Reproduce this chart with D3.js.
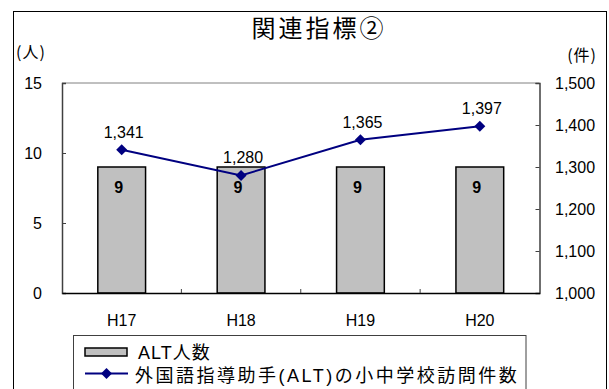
<!DOCTYPE html>
<html>
<head>
<meta charset="utf-8">
<script src="https://cdn.jsdelivr.net/npm/d3@7"></script>
<style>
  html, body { margin: 0; padding: 0; background: #fff; }
  svg { display: block; font-family: "Liberation Sans", "Noto Sans CJK JP", sans-serif; }
</style>
</head>
<body>
<svg id="chart" width="609" height="389"></svg>
<script>
// Chart data
const categories = ["H17", "H18", "H19", "H20"];
const altCount = [9, 9, 9, 9];                  // ALT人数 (bars, left axis)
const visits = [1341, 1280, 1365, 1397];        // 訪問件数 (line, right axis)
const leftTicks = [0, 5, 10, 15];
const rightTicks = [1000, 1100, 1200, 1300, 1400, 1500];
const titleText = "関連指標②";
const leftUnit = "(人)";
const rightUnit = "(件)";
const legendBar = "ALT人数";
const legendLine = "外国語指導助手(ALT)の小中学校訪問件数";

const svg = d3.select("#chart");
const plot = { left: 62, right: 539.5, top: 83, bottom: 293 };
const fmt = d3.format(",");

// outer frame
svg.append("rect")
  .attr("x", 13.5).attr("y", 11.5).attr("width", 593).attr("height", 400)
  .attr("fill", "#fff").attr("stroke", "#000").attr("stroke-width", 1);

// title
svg.append("text")
  .attr("x", 319).attr("y", 37)
  .attr("text-anchor", "middle")
  .attr("font-family", "'Noto Sans CJK JP', sans-serif")
  .attr("font-size", 24).attr("letter-spacing", 3)
  .text(titleText);

// scales
const xCat = d3.scaleBand().domain(categories).range([plot.left, plot.right]).padding(0);
const xBar = d3.scaleBand().domain(categories).range([plot.left, plot.right])
  .paddingInner(0.6).paddingOuter(0.3);
const yLeft = d3.scaleLinear().domain([0, 15]).range([plot.bottom, plot.top]);
const yRight = d3.scaleLinear().domain([1000, 1500]).range([plot.bottom, plot.top]);

// plot area top border
svg.append("line")
  .attr("x1", plot.left).attr("x2", plot.right)
  .attr("y1", plot.top).attr("y2", plot.top)
  .attr("stroke", "#808080").attr("stroke-width", 1);

// bars
svg.append("g").selectAll("rect")
  .data(categories.map((c, i) => ({ c, v: altCount[i] })))
  .join("rect")
  .attr("x", d => xBar(d.c))
  .attr("y", d => yLeft(d.v))
  .attr("width", xBar.bandwidth())
  .attr("height", d => yLeft(0) - yLeft(d.v))
  .attr("fill", "#c0c0c0")
  .attr("stroke", "#000").attr("stroke-width", 1.5);

// bar value labels
svg.append("g").selectAll("text")
  .data(categories.map((c, i) => ({ c, v: altCount[i] })))
  .join("text")
  .attr("x", d => xBar(d.c) + xBar.bandwidth() / 2 - 3)
  .attr("y", 193)
  .attr("text-anchor", "middle")
  .attr("font-size", 16).attr("font-weight", "bold")
  .text(d => d.v);

// left axis
const gLeft = svg.append("g")
  .attr("transform", `translate(${plot.left},0)`)
  .call(d3.axisLeft(yLeft).tickValues(leftTicks).tickSize(-4).tickPadding(20));
gLeft.select(".domain").attr("stroke", "#404040").attr("stroke-width", 1.5);
gLeft.selectAll(".tick line").attr("stroke", "#404040");
gLeft.selectAll(".tick text").attr("font-size", 16).attr("fill", "#000")
  .attr("font-family", "'Liberation Sans', sans-serif");

// right axis
const gRight = svg.append("g")
  .attr("transform", `translate(${plot.right},0)`)
  .call(d3.axisRight(yRight).tickValues(rightTicks).tickSize(-4).tickPadding(15.5).tickFormat(fmt));
gRight.select(".domain").attr("stroke", "#404040").attr("stroke-width", 1.5);
gRight.selectAll(".tick line").attr("stroke", "#404040");
gRight.selectAll(".tick text").attr("font-size", 16).attr("fill", "#000")
  .attr("font-family", "'Liberation Sans', sans-serif");

// bottom axis with category labels
const gBottom = svg.append("g")
  .attr("transform", `translate(0,${plot.bottom})`)
  .call(d3.axisBottom(xCat).tickSize(0).tickPadding(22));
gBottom.select(".domain").attr("stroke", "#000").attr("stroke-width", 1.5);
gBottom.selectAll(".tick text").attr("font-size", 16).attr("fill", "#000")
  .attr("font-family", "'Liberation Sans', sans-serif");

// category separator ticks (pointing up into the plot)
svg.append("g").selectAll("line")
  .data(categories.slice(1))
  .join("line")
  .attr("x1", d => xCat(d)).attr("x2", d => xCat(d))
  .attr("y1", plot.bottom).attr("y2", plot.bottom - 4)
  .attr("stroke", "#404040").attr("stroke-width", 1);

// unit labels
svg.append("text").attr("x", 16).attr("y", 58)
  .attr("font-size", 16).attr("letter-spacing", 1)
  .attr("font-family", "'Noto Sans CJK JP', sans-serif")
  .text(leftUnit);
svg.append("text").attr("x", 597).attr("y", 61)
  .attr("text-anchor", "end").attr("letter-spacing", 1)
  .attr("font-size", 16).attr("font-family", "'Noto Sans CJK JP', sans-serif")
  .text(rightUnit);

// line series
const pts = categories.map((c, i) => ({ c, v: visits[i] }));
const cx = d => xCat(d.c) + xCat.bandwidth() / 2;
svg.append("path")
  .datum(pts)
  .attr("fill", "none")
  .attr("stroke", "#000080").attr("stroke-width", 2)
  .attr("d", d3.line().x(cx).y(d => yRight(d.v)));

const diamond = d3.symbol().type(d3.symbolSquare).size(60);
svg.append("g").selectAll("path")
  .data(pts)
  .join("path")
  .attr("transform", d => `translate(${cx(d)},${yRight(d.v)}) rotate(45)`)
  .attr("d", diamond)
  .attr("fill", "#000080");

// line value labels
svg.append("g").selectAll("text")
  .data(pts)
  .join("text")
  .attr("x", d => cx(d) + 2)
  .attr("y", d => yRight(d.v) - 12)
  .attr("text-anchor", "middle")
  .attr("font-size", 16)
  .text(d => fmt(d.v));

// legend
const lg = svg.append("g");
lg.append("rect")
  .attr("x", 73.5).attr("y", 335.5).attr("width", 452.5).attr("height", 70)
  .attr("fill", "#fff").attr("stroke", "#404040").attr("stroke-width", 1);
lg.append("rect")
  .attr("x", 85).attr("y", 348).attr("width", 42).attr("height", 8)
  .attr("fill", "#c0c0c0").attr("stroke", "#000").attr("stroke-width", 1.5);
lg.append("text").attr("x", 138).attr("y", 358.5)
  .attr("font-size", 18).attr("letter-spacing", 1)
  .text(legendBar);
lg.append("line")
  .attr("x1", 85).attr("x2", 128).attr("y1", 373.5).attr("y2", 373.5)
  .attr("stroke", "#000080").attr("stroke-width", 2);
lg.append("path")
  .attr("transform", "translate(106.5,373.5) rotate(45)")
  .attr("d", diamond)
  .attr("fill", "#000080");
lg.append("text").attr("x", 135).attr("y", 382)
  .attr("font-size", 18).attr("letter-spacing", 2.5)
  .text(legendLine);
</script>
</body>
</html>
